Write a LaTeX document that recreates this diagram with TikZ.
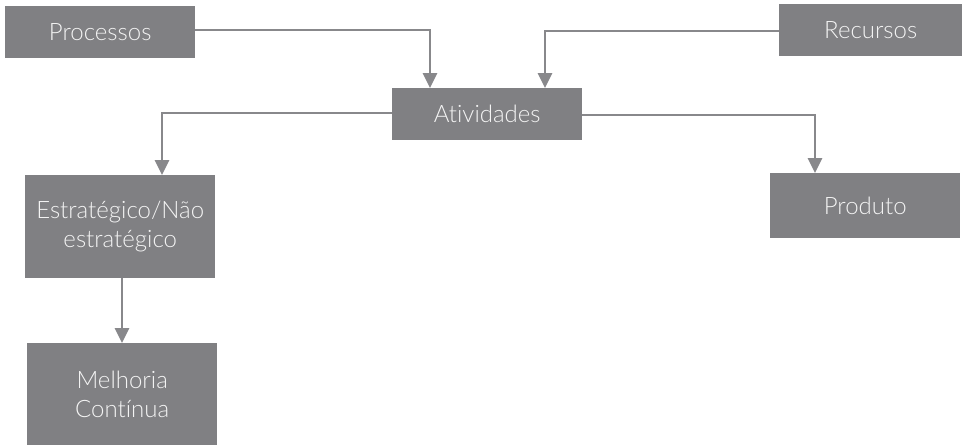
\documentclass[tikz,border=0pt]{standalone}
\usepackage{fontspec}
\setmainfont{Lato}[UprightFont={* Light},Ligatures=NoCommon]
\usetikzlibrary{arrows.meta}
\definecolor{boxgray}{HTML}{808083}
\definecolor{linegray}{HTML}{88888B}
\definecolor{txt}{HTML}{F4F4F4}
\begin{document}
\begin{tikzpicture}[x=1pt,y=-1pt,
  box/.style={fill=boxgray,draw=none,text=txt,font=\fontsize{24}{29}\selectfont,align=center,inner sep=0pt,anchor=north west},
  conn/.style={draw=linegray,line width=2.8pt,-{Triangle[width=14pt,length=15pt]}}]
\useasboundingbox (0,0) rectangle (962,445);
\node[box,minimum width=190pt,minimum height=52pt] (proc) at (5,6) {Processos};
\node[box,minimum width=183pt,minimum height=52pt] (rec) at (779,4) {Recursos};
\node[box,minimum width=190pt,minimum height=52pt] (ativ) at (392,88) {Atividades};
\node[box,minimum width=190pt,minimum height=103pt] (estr) at (25,175) {Estratégico/Não\\estratégico};
\node[box,minimum width=190pt,minimum height=102pt] (melh) at (27,343) {Melhoria\\Contínua};
\node[box,minimum width=190pt,minimum height=65pt] (prod) at (770,173) {Produto};
\coordinate (c1) at (430,30);
\coordinate (c2) at (545,31);
\coordinate (c3) at (162,113);
\coordinate (c4) at (815,115);
\draw[conn] (proc.east |- c1) -- (c1) -- (c1 |- ativ.north);
\draw[conn] (rec.west |- c2) -- (c2) -- (c2 |- ativ.north);
\draw[conn] (ativ.west |- c3) -- (c3) -- (c3 |- estr.north);
\draw[conn] (ativ.east |- c4) -- (c4) -- (c4 |- prod.north);
\draw[conn] (estr.south -| 122,0) -- (122,343);
\end{tikzpicture}
\end{document}
